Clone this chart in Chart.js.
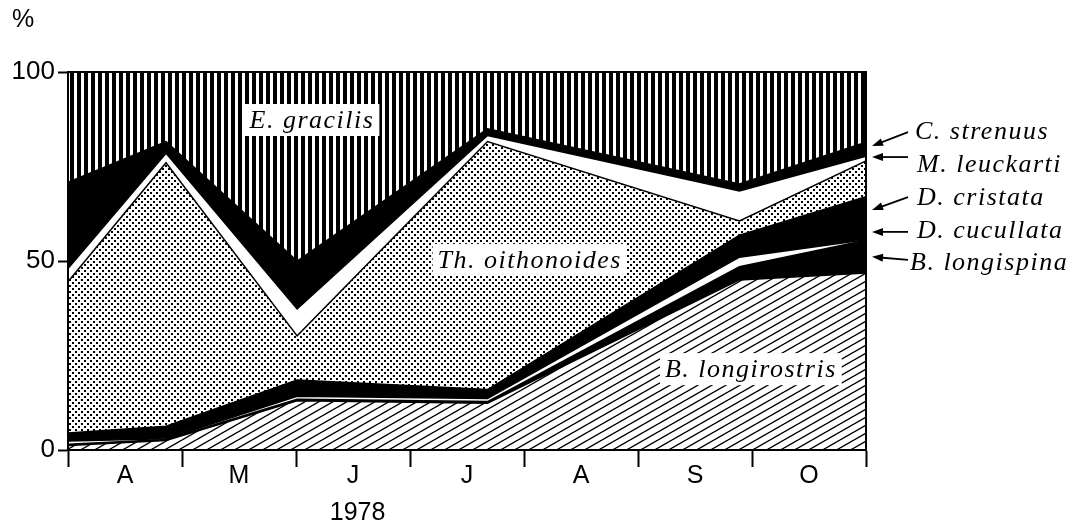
<!DOCTYPE html>
<html>
<head>
<meta charset="utf-8">
<script src="https://cdn.jsdelivr.net/npm/chart.js@4"></script>
<style>
  html, body { margin: 0; padding: 0; background: #fff; }
</style>
</head>
<body>
<canvas id="chart" width="1075" height="524"></canvas>
<script>
const months = ["A", "M", "J", "J", "A", "S", "O"]
// sampling dates, in months counted from 1 April 1978
const sampleX = [0, 0.86, 2.01, 3.68, 5.89, 7.0]

// share of each species (%), bottom of the stack first
const longirostris = [1.2, 2.5, 13.0, 12.4, 45.0, 46.8]
const longispina = [0.3, 0.3, 0.4, 0.4, 3.5, 8.7]
const cucullata = [0.9, 0.2, 0.8, 0.8, 2.5, 0.1]
const cristata = [2.1, 3.3, 4.3, 2.4, 5.8, 11.4]
const oithonoides = [40.0, 69.7, 11.7, 65.6, 3.8, 9.5]
const leuckarti = [3.5, 2.5, 7.1, 1.6, 7.9, 1.2]
const strenuus = [22.8, 3.1, 12.7, 1.8, 1.9, 3.7]
const gracilis = [29.2, 18.4, 50.0, 15.0, 29.6, 18.6]

const SANS = '"Liberation Sans", Arial, sans-serif'
const SERIF_IT = 'italic 26px "Liberation Serif", "Times New Roman", serif'

// --- fill patterns ---
function makeTile(w, h, draw) {
  const c = document.createElement("canvas")
  c.width = w
  c.height = h
  const g = c.getContext("2d")
  g.fillStyle = "#fff"
  g.fillRect(0, 0, w, h)
  draw(g, w, h)
  return c.getContext("2d").createPattern(c, "repeat")
}

const hatch = makeTile(14, 8, (g, w, h) => {
  g.strokeStyle = "#000"
  g.lineWidth = 1.4
  for (const [dx, dy] of [[0, 0], [-w, 0], [w, 0], [0, -h], [0, h]]) {
    g.beginPath()
    g.moveTo(dx, h + dy)
    g.lineTo(w + dx, dy)
    g.stroke()
  }
})

const dots = makeTile(6, 6, (g) => {
  g.fillStyle = "#000"
  g.fillRect(0, 0, 2, 2)
  g.fillRect(3, 3, 2, 2)
})

const stripes = makeTile(7, 7, (g) => {
  g.fillStyle = "#000"
  g.fillRect(0, 0, 4, 7)
})

function layer(label, values, fill, first) {
  return {
    label,
    data: sampleX.map((x, i) => ({ x, y: values[i] })),
    backgroundColor: fill,
    borderColor: "#000",
    borderWidth: 1.5,
    pointRadius: 0,
    tension: 0,
    fill: first ? "origin" : "-1"
  }
}

// labels drawn inside the plot (positions in data units)
const innerLabels = [
  { text: "E. gracilis", x: 2.14, y: 87.3 },
  { text: "Th. oithonoides", x: 4.05, y: 50.3 },
  { text: "B. longirostris", x: 5.99, y: 21.4 }
]

// labels on the right with arrows (y in %, dx in px from plot edge)
const sideLabels = [
  { text: "C. strenuus", y: 82.3, dx: 49, tail: 84.1, tip: 80.4 },
  { text: "M. leuckarti", y: 73.5, dx: 51, tail: 77.5, tip: 77.5 },
  { text: "D. cristata", y: 64.8, dx: 51, tail: 66.9, tip: 63.5 },
  { text: "D. cucullata", y: 56.1, dx: 51, tail: 57.7, tip: 57.7 },
  { text: "B. longispina", y: 47.6, dx: 44, tail: 50.3, tip: 51.1 }
]

const decorations = {
  id: "decorations",
  afterDatasetsDraw(chart) {
    const { ctx, chartArea: a, scales } = chart
    const px = (v) => scales.x.getPixelForValue(v)
    const py = (v) => scales.y.getPixelForValue(v)
    ctx.save()

    // frame
    ctx.strokeStyle = "#000"
    ctx.lineWidth = 2
    ctx.strokeRect(a.left, a.top, a.right - a.left, a.bottom - a.top)

    // inner labels on white boxes
    ctx.font = SERIF_IT
    ctx.letterSpacing = "1.5px"
    ctx.textBaseline = "middle"
    ctx.textAlign = "center"
    innerLabels.forEach((l) => {
      const w = ctx.measureText(l.text).width + 10
      const cx = px(l.x)
      const cy = py(l.y)
      ctx.fillStyle = "#fff"
      ctx.fillRect(cx - w / 2, cy - 16, w, 32)
      ctx.fillStyle = "#000"
      ctx.fillText(l.text, cx, cy + 1)
    })

    // side labels with arrows
    ctx.textAlign = "left"
    ctx.textBaseline = "alphabetic"
    sideLabels.forEach((l) => {
      ctx.fillStyle = "#000"
      ctx.fillText(l.text, a.right + l.dx, py(l.y))
      const x1 = a.right + 42
      const y1 = py(l.tail)
      const x2 = a.right + 6
      const y2 = py(l.tip)
      const ang = Math.atan2(y2 - y1, x2 - x1)
      ctx.lineWidth = 1.8
      ctx.beginPath()
      ctx.moveTo(x1, y1)
      ctx.lineTo(x2 - 8 * Math.cos(ang), y2 - 8 * Math.sin(ang))
      ctx.stroke()
      ctx.beginPath()
      ctx.moveTo(x2, y2)
      ctx.lineTo(x2 - 11 * Math.cos(ang) + 4 * Math.sin(ang), y2 - 11 * Math.sin(ang) - 4 * Math.cos(ang))
      ctx.lineTo(x2 - 11 * Math.cos(ang) - 4 * Math.sin(ang), y2 - 11 * Math.sin(ang) + 4 * Math.cos(ang))
      ctx.closePath()
      ctx.fill()
    })

    // unit and year
    ctx.letterSpacing = "0px"
    ctx.font = "25px " + SANS
    ctx.fillText("%", 12, 27)
    ctx.textAlign = "center"
    ctx.fillText("1978", px(2.54), 520)
    ctx.restore()
  }
}

new Chart(document.getElementById("chart"), {
  type: "line",
  data: {
    datasets: [
      layer("B. longirostris", longirostris, hatch, true),
      layer("B. longispina", longispina, "#000"),
      layer("D. cucullata", cucullata, "#fff"),
      layer("D. cristata", cristata, "#000"),
      layer("Th. oithonoides", oithonoides, dots),
      layer("M. leuckarti", leuckarti, "#fff"),
      layer("C. strenuus", strenuus, "#000"),
      layer("E. gracilis", gracilis, stripes)
    ]
  },
  options: {
    responsive: false,
    animation: false,
    layout: { padding: { left: 0, right: 209, top: 72, bottom: 0 } },
    plugins: {
      legend: { display: false },
      tooltip: { enabled: false }
    },
    scales: {
      x: {
        type: "linear",
        min: 0,
        max: 7,
        afterFit: (s) => { s.height = 74 },
        ticks: {
          stepSize: 0.5,
          autoSkip: false,
          maxRotation: 0,
          padding: -6,
          color: "#000",
          font: { family: SANS, size: 25 },
          callback: (v) => (v % 1 === 0.5 ? months[Math.floor(v)] : "")
        },
        grid: {
          drawOnChartArea: false,
          tickLength: 17,
          tickWidth: 2,
          tickColor: (c) => (Number.isInteger(c.tick.value) ? "#000" : "rgba(0,0,0,0)")
        },
        border: { color: "#000", width: 2 }
      },
      y: {
        stacked: true,
        min: 0,
        max: 100,
        afterFit: (s) => { s.width = 68 },
        ticks: {
          stepSize: 50,
          padding: 3,
          color: "#000",
          font: { family: SANS, size: 26 }
        },
        grid: {
          drawOnChartArea: false,
          tickLength: 10,
          tickWidth: 2,
          tickColor: "#000"
        },
        border: { color: "#000", width: 2 }
      }
    }
  },
  plugins: [decorations]
})
</script>
</body>
</html>
